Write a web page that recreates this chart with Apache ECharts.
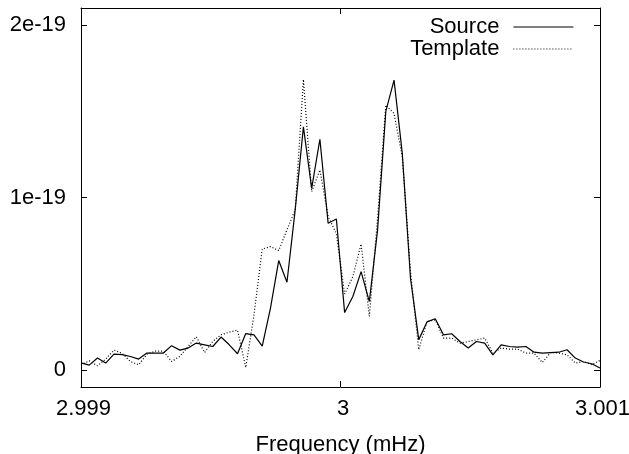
<!DOCTYPE html>
<html>
<head>
<meta charset="utf-8">
<script src="https://cdn.jsdelivr.net/npm/echarts@6/dist/echarts.min.js"></script>
<style>
html,body{margin:0;padding:0;background:#fff;}
#chart{width:629px;height:454px;}
</style>
</head>
<body>
<div id="chart"></div>
<script>
// Frequency in mHz
var freq = [
  2.9990000, 2.9990317, 2.9990635, 2.9990952, 2.9991270, 2.9991587, 2.9991905, 2.9992222,
  2.9992540, 2.9992857, 2.9993175, 2.9993492, 2.9993810, 2.9994127, 2.9994444, 2.9994762,
  2.9995079, 2.9995397, 2.9995714, 2.9996032, 2.9996349, 2.9996667, 2.9996984, 2.9997302,
  2.9997619, 2.9997937, 2.9998254, 2.9998571, 2.9998889, 2.9999206, 2.9999524, 2.9999841,
  3.0000159, 3.0000476, 3.0000794, 3.0001111, 3.0001429, 3.0001746, 3.0002063, 3.0002381,
  3.0002698, 3.0003016, 3.0003333, 3.0003651, 3.0003968, 3.0004286, 3.0004603, 3.0004921,
  3.0005238, 3.0005556, 3.0005873, 3.0006190, 3.0006508, 3.0006825, 3.0007143, 3.0007460,
  3.0007778, 3.0008095, 3.0008413, 3.0008730, 3.0009048, 3.0009365, 3.0009683, 3.0010000
];
// Power values, in units of 1e-19
var source = [
  0.040, 0.027, 0.068, 0.039, 0.091, 0.088, 0.077, 0.062,
  0.097, 0.097, 0.097, 0.140, 0.114, 0.126, 0.155, 0.145,
  0.135, 0.190, 0.145, 0.093, 0.210, 0.203, 0.137, 0.358,
  0.634, 0.508, 0.928, 1.410, 1.053, 1.338, 0.850, 0.875,
  0.332, 0.425, 0.570, 0.396, 0.812, 1.500, 1.681, 1.256,
  0.530, 0.175, 0.278, 0.296, 0.203, 0.209, 0.164, 0.126,
  0.164, 0.155, 0.087, 0.145, 0.135, 0.131, 0.135, 0.102,
  0.097, 0.100, 0.102, 0.116, 0.068, 0.045, 0.035, 0.010
];
var template = [
  0.029, 0.052, 0.023, 0.062, 0.114, 0.095, 0.048, 0.029,
  0.090, 0.108, 0.108, 0.048, 0.078, 0.135, 0.192, 0.100,
  0.165, 0.203, 0.218, 0.230, 0.013, 0.320, 0.701, 0.715,
  0.692, 0.812, 0.928, 1.685, 1.034, 1.160, 0.890, 0.790,
  0.440, 0.540, 0.730, 0.310, 0.880, 1.536, 1.488, 1.236,
  0.570, 0.116, 0.280, 0.290, 0.184, 0.184, 0.155, 0.164,
  0.174, 0.184, 0.097, 0.126, 0.120, 0.120, 0.097, 0.097,
  0.042, 0.100, 0.097, 0.087, 0.039, 0.048, 0.029, 0.054
];
var yTicks = [0, 1, 2];
var seriesNames = ['Source', 'Template'];
var xTitle = 'Frequency (mHz)';

var FONT = 'Liberation Sans, Arial, Helvetica, sans-serif';
var FS = 22;
var chart = echarts.init(document.getElementById('chart'), null, {renderer: 'canvas'});

function yLabel(v) { return v === 0 ? '0' : (Math.round(v) + 'e-19'); }

var axisLineStyle = {show: true, onZero: false, lineStyle: {color: '#000', width: 1}};
var tickStyle = {show: true, inside: true, length: 6, lineStyle: {color: '#000', width: 1}};

var option = {
  animation: false,
  backgroundColor: '#fff',
  grid: {left: 81, right: 29, top: 8, bottom: 67, containLabel: false, outerBoundsMode: 'none'},
  legend: {
    orient: 'vertical',
    right: 50,
    top: 11,
    align: 'right',
    itemWidth: 60,
    itemHeight: 14,
    itemGap: 0,
    itemStyle: {opacity: 0},
    lineStyle: {width: 1.2},
    textStyle: {fontFamily: FONT, fontSize: FS, color: '#000', padding: [0, 9, 0, 0]},
    data: seriesNames
  },
  xAxis: [
    {
      type: 'value', position: 'bottom', min: 2.999, max: 3.001, interval: 0.001,
      axisLine: axisLineStyle, axisTick: tickStyle, splitLine: {show: false},
      axisLabel: {
        color: '#000', fontFamily: FONT, fontSize: FS, margin: 11, padding: [0, 0, 0, 5],
        formatter: function (v) { return String(+v.toFixed(3)); }
      },
      name: xTitle, nameLocation: 'middle', nameGap: 47,
      nameTextStyle: {color: '#000', fontFamily: FONT, fontSize: FS}
    },
    {
      type: 'value', position: 'top', min: 2.999, max: 3.001, interval: 0.001,
      axisLine: axisLineStyle, axisTick: tickStyle, splitLine: {show: false},
      axisLabel: {show: false}
    }
  ],
  yAxis: [
    {
      type: 'value', position: 'left', min: -0.1, max: 2.1,
      axisLine: axisLineStyle,
      axisTick: {show: true, inside: true, length: 6, lineStyle: {color: '#000', width: 1}, customValues: yTicks},
      splitLine: {show: false},
      axisLabel: {color: '#000', fontFamily: FONT, fontSize: FS, margin: 15, verticalAlign: 'middle',
        padding: [3, 0, 0, 0], customValues: yTicks, formatter: yLabel}
    },
    {
      type: 'value', position: 'right', min: -0.1, max: 2.1,
      axisLine: axisLineStyle,
      axisTick: {show: true, inside: true, length: 6, lineStyle: {color: '#000', width: 1}, customValues: yTicks},
      splitLine: {show: false},
      axisLabel: {show: false, customValues: yTicks}
    }
  ],
  series: [
    {
      name: seriesNames[0], type: 'line', xAxisIndex: 0, yAxisIndex: 0,
      showSymbol: false, symbol: 'none', clip: true,
      lineStyle: {color: '#000', width: 1.2, type: 'solid'},
      itemStyle: {color: '#000'},
      data: freq.map(function (f, i) { return [f, source[i]]; })
    },
    {
      name: seriesNames[1], type: 'line', xAxisIndex: 0, yAxisIndex: 0,
      showSymbol: false, symbol: 'none', clip: true,
      lineStyle: {color: '#000', width: 1.2, type: [1, 2]},
      itemStyle: {color: '#000'},
      data: freq.map(function (f, i) { return [f, template[i]]; })
    }
  ]
};
chart.setOption(option);
</script>
</body>
</html>
